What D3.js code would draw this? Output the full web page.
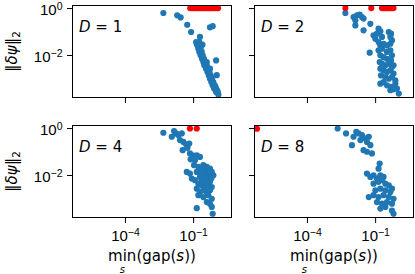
<!DOCTYPE html>
<html>
<head>
<meta charset="utf-8">
<style>
body { margin: 0; background: #fff; }
svg { display: block; font-family: "DejaVu Sans", sans-serif; }
</style>
</head>
<body>
<svg width="415" height="274"></svg>
<script src="https://d3js.org/d3.v7.min.js"></script>
<script>
// all values are log10 exponents

var panelD = ["1", "2", "4", "8"];
var xTickExp = [-4, -1];
var yTickExp = [0, -2];

// D = 1
var d1BlueGap = [-2.31, -1.70, -1.55, -1.26, -1.09, -0.70, -0.26, -0.14, -0.84, -0.77, -0.59, 0.01, 0.04,
  -0.87, -0.73, -0.81, -0.70, -0.77, -0.67, -0.73, -0.62, -0.67, -0.58, -0.61, -0.52, -0.55, -0.46, -0.40,
  -0.51, -0.40, -0.43, -0.34, -0.26, -0.37, -0.28, -0.31, -0.23, -0.26, -0.17, -0.20, -0.11, -0.14, -0.05,
  -0.08, 0.01, 0.01, 0.08, 0.11, -0.33, -0.22, -0.12, 0.05, -0.02, 0.09];
var d1BlueErr = [-0.21, -0.31, -0.40, -0.71, -1.02, -1.23, -0.82, -0.77, -1.52, -1.59, -1.56, -2.23, -2.86,
  -1.45, -1.45, -1.59, -1.59, -1.73, -1.73, -1.87, -1.87, -2.01, -2.01, -2.16, -2.16, -2.30, -2.30, -2.30,
  -2.44, -2.44, -2.58, -2.58, -2.58, -2.72, -2.72, -2.87, -2.87, -3.01, -3.01, -3.15, -3.15, -3.29, -3.29,
  -3.43, -3.43, -3.57, -3.57, -3.69, -2.65, -2.95, -3.22, -3.50, -3.36, -3.62];
var d1RedGap = [-1.13, -1.05, -0.98, -0.90, -0.82, -0.74, -0.66, -0.58, -0.50, -0.42, -0.34, -0.26, -0.18, -0.10, -0.02, 0.06, 0.10];
var d1RedErr = [0, 0, 0, 0, 0, 0, 0, 0, 0, 0, 0, 0, 0, 0, 0, 0, 0];

// D = 2
var d2BlueGap = [-2.31, -1.95, -1.80, -1.68, -1.58, -1.51, -1.87, -1.87, -1.51, -1.21, -1.07, -0.92, -0.85,
  -0.77, -0.70, -0.40, -0.30, -0.33, -0.26, -0.99, -0.85, -0.77, -0.63, -0.48, -0.33, -0.85, -0.70, -0.48,
  -0.33, -1.24, -0.77, -0.63, -0.48, -0.26, -0.30, -0.80, -0.70, -0.55, -0.40, -0.26, -0.19, -0.77, -0.63,
  -0.48, -0.33, -0.19, -0.74, -0.55, -0.40, -0.26, -0.11, -0.77, -0.63, -0.48, -0.30, -0.11, -0.04, 0.04,
  -0.33, -0.19];
var d2BlueErr = [-0.21, -0.38, -0.31, -0.28, -0.38, -0.45, -0.52, -0.74, -0.95, -0.67, -1.16, -1.09, -0.88,
  -0.99, -1.23, -1.02, -1.09, -1.23, -1.38, -1.31, -1.45, -1.59, -1.52, -1.59, -1.52, -1.80, -1.73, -1.87,
  -1.80, -1.90, -2.01, -2.09, -2.16, -2.01, -2.23, -2.30, -2.37, -2.44, -2.37, -2.51, -2.44, -2.58, -2.65,
  -2.72, -2.65, -2.79, -2.87, -2.94, -3.01, -2.94, -3.08, -3.22, -3.15, -3.29, -3.36, -3.22, -3.43, -3.64,
  -3.50, -3.46];
var d2RedGap = [-2.31, -1.17, -0.70, -0.62, -0.55, -0.47, -0.40, -0.33, -0.26, -0.19];
var d2RedErr = [0, 0, 0, 0, 0, 0, 0, 0, 0, 0];

// D = 4
var d4BlueGap = [-2.31, -1.94, -1.84, -1.75, -1.65, -1.50, -1.58, -1.43, -1.31, -1.17, -1.46, -1.25, -1.14,
  -1.02, -0.84, -0.70, -1.11, -0.92, -0.96, -0.77, -0.55, -0.40, -0.26, -0.18, -1.28, -1.14, -0.84, -0.70,
  -0.48, -0.33, -0.11, -1.06, -0.92, -0.70, -0.55, -0.40, -0.26, -0.77, -0.62, -0.48, -0.33, -0.18, -0.84,
  -0.70, -0.55, -0.40, -0.26, -0.77, -0.55, -0.33, -0.18, -0.40, -0.26, -0.18, -0.84, -0.14,
  -0.60, -0.45, -0.35, -0.50, -0.62, -0.30, -0.20, -0.65];
var d4BlueErr = [-0.20, -0.37, -0.13, -0.23, -0.30, -0.23, -0.51, -0.59, -0.70, -0.66, -0.94, -0.84, -1.08,
  -1.16, -1.16, -1.23, -1.33, -1.37, -1.58, -1.65, -1.58, -1.65, -1.73, -1.87, -1.87, -1.94, -1.87, -1.80,
  -1.87, -2.01, -2.01, -2.15, -2.22, -2.08, -2.15, -2.22, -2.29, -2.37, -2.44, -2.51, -2.44, -2.51, -2.58,
  -2.72, -2.65, -2.72, -2.65, -2.86, -2.94, -2.86, -3.01, -3.15, -3.22, -3.36, -3.41, -3.65,
  -1.75, -1.95, -2.10, -2.30, -2.25, -1.85, -2.15, -1.95];
var d4RedGap = [-1.14, -0.84];
var d4RedErr = [-0.02, -0.02];

// D = 8
var d8BlueGap = [-2.65, -2.28, -1.95, -1.83, -1.73, -1.58, -1.43, -1.36, -1.21, -2.02, -1.51, -1.36, -1.14,
  -1.65, -1.28, -0.80, -0.85, -1.36, -1.21, -1.07, -0.92, -0.77, -0.63, -1.07, -0.85, -0.70, -0.55, -0.40,
  -0.26, -0.99, -0.77, -0.55, -0.33, -1.28, -1.07, -0.85, -0.63, -0.40, -0.19, -0.92, -0.70, -0.48, -0.26,
  -0.77, -0.55, -0.26, -0.19];
var d8BlueErr = [-0.02, -0.23, -0.37, -0.16, -0.23, -0.30, -0.44, -0.59, -0.73, -0.73, -0.94, -1.01, -1.08,
  -0.51, -0.37, -1.51, -1.73, -1.94, -2.08, -2.01, -2.15, -2.01, -2.08, -2.37, -2.29, -2.22, -2.37, -2.44,
  -2.58, -2.65, -2.58, -2.65, -2.72, -2.94, -2.86, -2.94, -2.86, -2.94, -3.01, -3.15, -3.22, -3.15, -3.22,
  -3.43, -3.36, -3.51, -3.65];
var d8RedGap = [-6.2];
var d8RedErr = [-0.03];

var blueGap = [d1BlueGap, d2BlueGap, d4BlueGap, d8BlueGap];
var blueErr = [d1BlueErr, d2BlueErr, d4BlueErr, d8BlueErr];
var redGap = [d1RedGap, d2RedGap, d4RedGap, d8RedGap];
var redErr = [d1RedErr, d2RedErr, d4RedErr, d8RedErr];

var svg = d3.select("svg"),
    pw = 160, ph = 93,
    lefts = [72, 254, 72, 254],
    tops = [5, 5, 125, 125];

var x = d3.scaleLog().domain([Math.pow(10, -6.33), Math.pow(10, 0.71)]).range([0, pw]);
var y = d3.scaleLog().domain([Math.pow(10, -3.83), Math.pow(10, 0.13)]).range([ph, 0]);

function powLabel(sel, e) {
  sel.append("tspan").text("10");
  sel.append("tspan").attr("dy", "-0.45em").attr("font-size", "10.5px")
    .text(e < 0 ? "\u2212" + (-e) : "" + e);
}

svg.append("defs").append("clipPath").attr("id", "clip")
  .append("rect").attr("width", pw).attr("height", ph);

panelD.forEach(function(D, i) {
  var g = svg.append("g").attr("transform", "translate(" + lefts[i] + "," + tops[i] + ")");
  var col = i % 2, row = Math.floor(i / 2);

  var pts = g.append("g").attr("clip-path", "url(#clip)");
  pts.selectAll(".b").data(d3.range(blueGap[i].length)).enter().append("circle")
    .attr("cx", function(k) { return x(Math.pow(10, blueGap[i][k])); })
    .attr("cy", function(k) { return y(Math.pow(10, blueErr[i][k])); })
    .attr("r", 3.1).attr("fill", "#1f77b4");
  pts.selectAll(".r").data(d3.range(redGap[i].length)).enter().append("circle")
    .attr("cx", function(k) { return x(Math.pow(10, redGap[i][k])); })
    .attr("cy", function(k) { return y(Math.pow(10, redErr[i][k])); })
    .attr("r", 3.1).attr("fill", "red");

  // ticks
  var xa = g.append("g").attr("transform", "translate(0," + ph + ")")
    .call(d3.axisBottom(x).tickValues(xTickExp.map(function(e) { return Math.pow(10, e); }))
      .tickSize(5).tickSizeOuter(0).tickFormat(""));
  var ya = g.append("g")
    .call(d3.axisLeft(y).tickValues(yTickExp.map(function(e) { return Math.pow(10, e); }))
      .tickSize(5).tickSizeOuter(0).tickFormat(""));
  [xa, ya].forEach(function(a) {
    a.select(".domain").remove();
    a.selectAll("line").attr("stroke", "#000").attr("stroke-width", 1);
  });

  if (row === 1) {
    xa.selectAll(".tick").append("text")
      .attr("fill", "#000").attr("font-size", "15px").attr("text-anchor", "middle")
      .attr("y", 23)
      .each(function(d, k) { powLabel(d3.select(this), xTickExp[k]); });
  }
  if (col === 0) {
    ya.selectAll(".tick").append("text")
      .attr("fill", "#000").attr("font-size", "15px").attr("text-anchor", "end")
      .attr("x", -9.5).attr("y", 6.5)
      .each(function(d, k) { powLabel(d3.select(this), yTickExp[k]); });
  }

  g.append("rect").attr("x", 0.5).attr("y", 0.5).attr("width", pw - 1).attr("height", ph - 1)
    .attr("fill", "none").attr("stroke", "#000").attr("stroke-width", 1);

  var lab = g.append("text").attr("x", 7).attr("y", 27).attr("font-size", "15px").attr("fill", "#000");
  lab.append("tspan").attr("font-style", "italic").text("D");
  lab.append("tspan").text(" = " + D);
});

// y labels
[0, 1].forEach(function(row) {
  var t = svg.append("text")
    .attr("transform", "translate(17," + (tops[row * 2] + ph / 2) + ") rotate(-90)")
    .attr("text-anchor", "middle").attr("font-size", "15px").attr("fill", "#000");
  t.append("tspan").text("\u2016");
  t.append("tspan").attr("font-style", "italic").text("\u03b4\u03c8");
  t.append("tspan").text("\u2016");
  t.append("tspan").attr("font-size", "10.5px").attr("dy", "0.3em").text("2");
});

// x labels
[0, 1].forEach(function(col) {
  var cx = lefts[col] + pw / 2;
  var t = svg.append("text").attr("y", 261).attr("font-size", "15px").attr("fill", "#000");
  var m = t.append("tspan").text("min");
  t.append("tspan").text("(gap(");
  t.append("tspan").attr("font-style", "italic").text("s");
  t.append("tspan").text("))");
  var w = t.node().getComputedTextLength();
  var x0 = cx - w / 2;
  t.attr("x", x0);
  var mw = m.node().getComputedTextLength();
  svg.append("text").attr("x", x0 + mw / 2).attr("y", 273)
    .attr("text-anchor", "middle").attr("font-size", "10px").attr("font-style", "italic")
    .attr("fill", "#000").text("s");
});
</script>
</body>
</html>
